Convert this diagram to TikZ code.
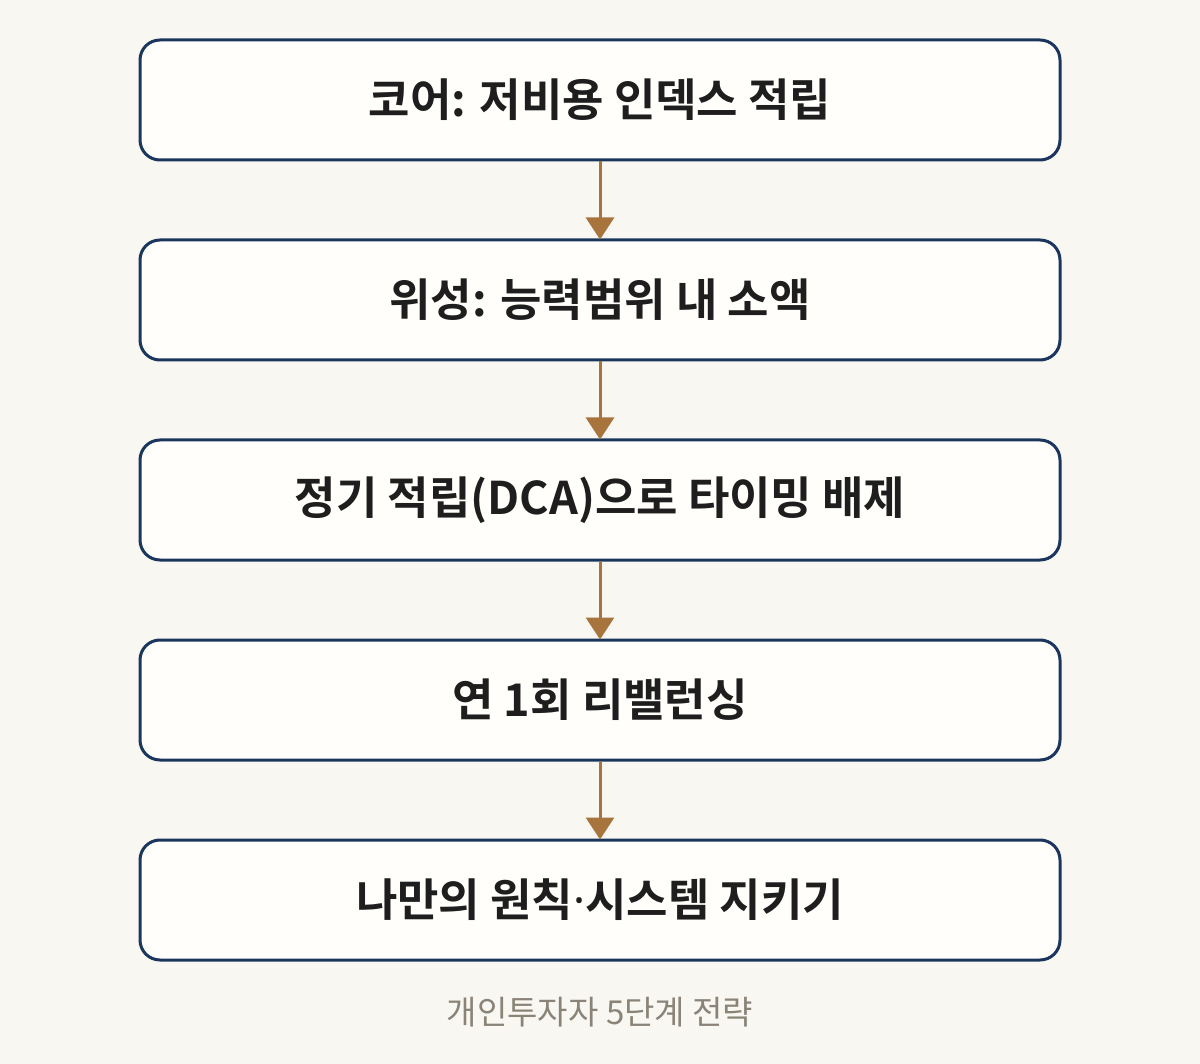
\documentclass[tikz,border=0pt]{standalone}
\usepackage{fontspec}
\newfontfamily\kr{Noto Sans CJK KR}
\newfontfamily\krb{Noto Sans CJK KR Bold}
\newfontfamily\latb{Noto Sans}
\usetikzlibrary{arrows.meta}
\definecolor{bg}{HTML}{F9F7F1}
\definecolor{boxfill}{HTML}{FFFEFA}
\definecolor{navy}{HTML}{1B365D}
\definecolor{brown}{HTML}{A8743E}
\definecolor{capgray}{HTML}{8A8378}
\definecolor{ink}{HTML}{1E1E1E}
\tikzset{
  stepbox/.style={draw=navy, line width=3pt, fill=boxfill, rounded corners=20pt,
    minimum width=920pt, minimum height=120pt, inner sep=0pt,
    font=\krb\fontsize{45}{52}\selectfont, text=ink},
  flow/.style={draw=brown, line width=3pt, -{Triangle[width=28pt,length=22pt]}, shorten >=-1pt}
}
\begin{document}
\begin{tikzpicture}[x=1pt,y=-1pt]
\fill[bg] (0,0) rectangle (1200,1064);
\useasboundingbox (0,0) rectangle (1200,1064);
\node[stepbox] (s1) at (600,100) {코어: 저비용 인덱스 적립};
\node[stepbox] (s2) at (600,300) {위성: 능력범위 내 소액};
\node[stepbox] (s3) at (600,500) {정기 적립(DCA)으로 타이밍 배제};
\node[stepbox] (s4) at (600,700) {연 1회 리밸런싱};
\node[stepbox] (s5) at (600,900) {나만의 원칙{\latb\bfseries ·}시스템 지키기};
\draw[flow] (s1) -- (s2);
\draw[flow] (s2) -- (s3);
\draw[flow] (s3) -- (s4);
\draw[flow] (s4) -- (s5);
\node[font=\kr\fontsize{33}{40}\selectfont, text=capgray] (cap) at (600,1012) {개인투자자 5단계 전략};
\end{tikzpicture}
\end{document}
